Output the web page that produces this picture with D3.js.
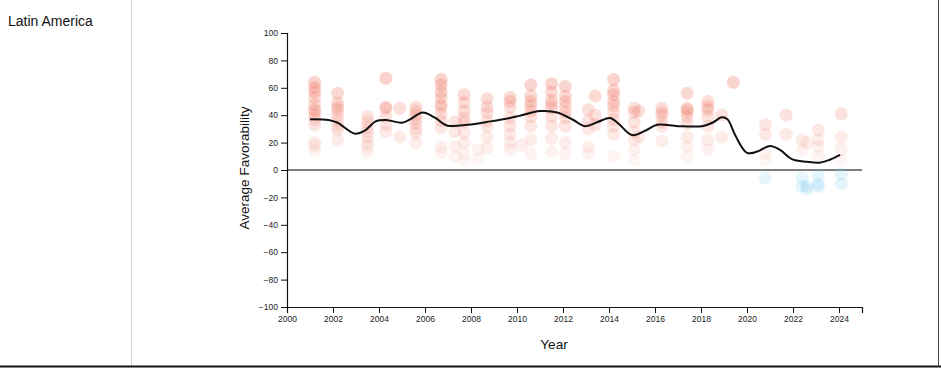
<!DOCTYPE html>
<html>
<head>
<meta charset="utf-8">
<script src="https://cdn.jsdelivr.net/npm/d3@7"></script>
<style>
  body { margin: 0; background: #fff; }
  svg { display: block; font-family: "Liberation Sans", Arial, Helvetica, sans-serif; }
  .axis text { font-size: 8.5px; fill: #222; }
  .axis path, .axis line { stroke: #111; }
</style>
</head>
<body>
<svg id="chart" width="941" height="368"></svg>
<script>
var w = 941;
var h = 368;

var region = "Latin America";

// survey waves (fractional year) and the country values
var waveYears = [2001.2, 2002.2, 2003.5, 2004.3, 2004.9, 2005.6, 2006.7, 2007.3, 2007.7, 2008.3,
  2008.7, 2009.7, 2010.2, 2010.6, 2011.5, 2012.1, 2013.1, 2013.4, 2014.2, 2015.1,
  2015.3, 2016.3, 2017.4, 2018.3, 2018.9, 2019.4, 2020.8, 2021.7, 2022.4, 2022.6,
  2023.1, 2024.1];
var waveValues = [
  [64, 60, 57, 53, 48, 44, 43, 40, 37, 33, 20, 18, 14],
  [56, 49, 46, 44, 40, 36, 32, 29, 22],
  [39, 35, 31, 28, 24, 20, 17, 13],
  [67, 46, 45, 39, 33, 28],
  [45, 24],
  [46, 43, 40, 37, 34, 30, 27, 20],
  [66, 62, 57, 53, 48, 46, 41, 36, 31, 17, 13],
  [35, 28, 17, 10],
  [55, 49, 43, 38, 35, 27, 20, 12, 7],
  [15, 8],
  [52, 46, 42, 36, 32, 24, 16],
  [53, 50, 46, 38, 32, 26, 20, 15],
  [18],
  [62, 54, 50, 47, 43, 39, 32, 22, 12],
  [63, 57, 51, 48, 45, 39, 32, 23, 13],
  [61, 54, 50, 46, 42, 38, 32, 20, 12],
  [44, 36, 30, 17, 12],
  [54, 40, 33],
  [66, 58, 55, 50, 47, 42, 37, 32, 26, 10],
  [45, 42, 35, 28, 22, 15, 7],
  [43, 24],
  [45, 42, 40, 35, 32, 21],
  [56, 45, 44, 42, 39, 34, 24, 17, 10],
  [50, 46, 44, 39, 32, 22, 15],
  [40, 24],
  [64],
  [33, 26, 12, 7, -6],
  [40, 26],
  [22, 15, -6, -12],
  [20, -12, -14],
  [29, 22, 17, 10, -4, -10, -12],
  [41, 24, 15, 7, -3, -10]
];

// smoothed average line
var trendYears = [2001.0, 2001.8, 2002.2, 2002.95, 2003.4, 2003.85, 2004.3, 2005.0, 2005.35, 2005.9,
  2006.45, 2006.95, 2007.85, 2008.85, 2009.7, 2010.1, 2011.0, 2011.75, 2012.45, 2012.95,
  2013.5, 2014.05, 2014.4, 2015.0, 2015.55, 2016.1, 2017.0, 2018.05, 2018.5, 2018.9,
  2019.15, 2019.5, 2020.0, 2020.45, 2021.0, 2021.45, 2021.95, 2022.6, 2023.15, 2023.6, 2024.05];
var trendValues = [37, 36.5, 34.5, 26.5, 29, 35.5, 36.5, 34.5, 37, 42,
  38, 32.5, 33, 35.5, 38, 39.5, 43, 42, 36.5, 32,
  35, 38, 34, 25.5, 28.5, 33, 32, 32, 34.5, 38.5,
  37, 25, 12.5, 13.5, 17.5, 14.5, 8, 6, 5.3, 7.5, 11];

var yTicks = d3.range(-100, 101, 20);
var xTicks = d3.range(2000, 2025, 2);

var svg = d3.select("#chart");

// table cell borders
svg.append("line").attr("x1", 131.5).attr("x2", 131.5).attr("y1", 0).attr("y2", 366)
  .attr("stroke", "#d6d6d6");
svg.append("line").attr("x1", 0).attr("x2", w).attr("y1", 366.5).attr("y2", 366.5)
  .attr("stroke", "#111").attr("stroke-width", 2);
svg.append("line").attr("x1", 938.5).attr("x2", 938.5).attr("y1", 0).attr("y2", 367)
  .attr("stroke", "#444");

svg.append("text")
  .attr("x", 8).attr("y", 26)
  .attr("font-size", "14px")
  .attr("fill", "#111")
  .text(region);

var x = d3.scaleLinear().domain([2000, 2025]).range([287, 862]);
var y = d3.scaleLinear().domain([-100, 100]).range([307, 33]);

var g = svg.append("g");

// zero reference line
g.append("line")
  .attr("x1", x(2000)).attr("x2", x(2025))
  .attr("y1", y(0)).attr("y2", y(0))
  .attr("stroke", "#555").attr("stroke-width", 1.3);

var points = [];
waveYears.forEach(function(yr, i) {
  waveValues[i].forEach(function(v) { points.push({year: yr, value: v}); });
});

g.selectAll("circle.pt")
  .data(points)
  .enter()
  .append("circle")
  .attr("class", "pt")
  .attr("cx", function(d) { return x(d.year); })
  .attr("cy", function(d) { return y(d.value); })
  .attr("r", 6.5)
  .attr("fill", function(d) { return d.value >= 0 ? "#f07c68" : "#7fcbee"; })
  .attr("fill-opacity", function(d) {
    if (d.value < 0) return 0.2;
    return Math.min(0.04 + d.value * 0.0045, 0.34);
  });

var line = d3.line()
  .x(function(d, i) { return x(trendYears[i]); })
  .y(function(d) { return y(d); })
  .curve(d3.curveCatmullRom.alpha(0.5));

g.append("path")
  .datum(trendValues)
  .attr("d", line)
  .attr("fill", "none")
  .attr("stroke", "#111")
  .attr("stroke-width", 2);

g.append("g")
  .attr("class", "axis")
  .attr("transform", "translate(0," + y(-100) + ")")
  .call(d3.axisBottom(x).tickValues(xTicks).tickFormat(d3.format("d")));

g.append("g")
  .attr("class", "axis")
  .attr("transform", "translate(" + x(2000) + ",0)")
  .call(d3.axisLeft(y).tickValues(yTicks));

svg.selectAll(".axis .domain").attr("stroke-width", 1.2);

svg.append("text")
  .attr("transform", "translate(249,168) rotate(-90)")
  .attr("text-anchor", "middle")
  .attr("font-size", "13.5px")
  .attr("fill", "#111")
  .text("Average Favorability");

svg.append("text")
  .attr("x", 554).attr("y", 349)
  .attr("text-anchor", "middle")
  .attr("font-size", "13.5px")
  .attr("fill", "#111")
  .text("Year");
</script>
</body>
</html>
